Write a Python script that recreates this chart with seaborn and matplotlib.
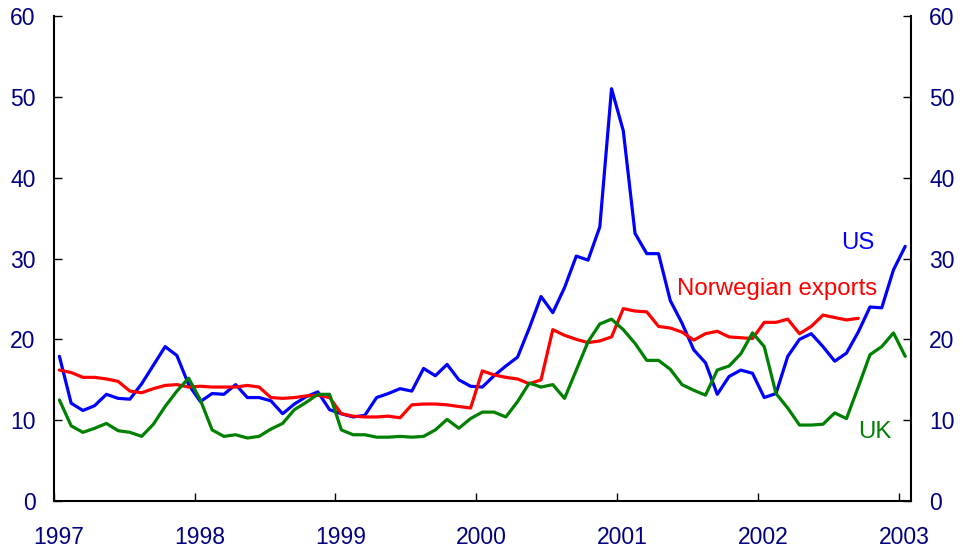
import numpy as np
import pandas as pd
import matplotlib
matplotlib.use("Agg")
import matplotlib.pyplot as plt
import matplotlib.transforms as mtransforms
import seaborn as sns

# Monthly series, January 1997 onwards
us = [17.9, 12.1, 11.2, 11.8, 13.2, 12.7, 12.6, 14.5, 16.8, 19.1, 18.0, 14.4,
      12.3, 13.3, 13.2, 14.4, 12.8, 12.8, 12.4, 10.8, 12.0, 12.9, 13.5, 11.3,
      10.8, 10.4, 10.6, 12.8, 13.3, 13.9, 13.6, 16.4, 15.5, 16.9, 15.0, 14.2,
      14.1, 15.5, 16.7, 17.8, 21.4, 25.3, 23.3, 26.4, 30.3, 29.8, 33.9, 51.0,
      45.8, 33.1, 30.6, 30.6, 24.8, 22.0, 18.7, 17.1, 13.2, 15.4, 16.2, 15.8,
      12.8, 13.3, 17.9, 20.0, 20.7, 19.1, 17.3, 18.3, 20.9, 24.0, 23.9, 28.6,
      31.5]
norway = [16.2, 15.9, 15.3, 15.3, 15.1, 14.8, 13.6, 13.4, 13.9, 14.3, 14.4, 14.1,
          14.2, 14.1, 14.1, 14.1, 14.3, 14.1, 12.8, 12.7, 12.8, 13.0, 13.1, 12.8,
          10.8, 10.5, 10.4, 10.4, 10.5, 10.3, 11.9, 12.0, 12.0, 11.9, 11.7, 11.5,
          16.1, 15.6, 15.3, 15.1, 14.5, 15.0, 21.2, 20.5, 20.0, 19.6, 19.8, 20.3,
          23.8, 23.5, 23.4, 21.6, 21.4, 20.9, 19.9, 20.7, 21.0, 20.3, 20.2, 20.1,
          22.1, 22.1, 22.5, 20.7, 21.6, 23.0, 22.7, 22.4, 22.6]
uk = [12.5, 9.3, 8.5, 9.0, 9.6, 8.7, 8.5, 8.0, 9.5, 11.7, 13.6, 15.2,
      12.5, 8.8, 8.0, 8.2, 7.8, 8.0, 8.9, 9.6, 11.3, 12.2, 13.2, 13.2,
      8.8, 8.2, 8.2, 7.9, 7.9, 8.0, 7.9, 8.0, 8.8, 10.1, 9.0, 10.2,
      11.0, 11.0, 10.4, 12.3, 14.6, 14.1, 14.4, 12.7, 16.2, 19.7, 21.9, 22.5,
      21.2, 19.5, 17.4, 17.4, 16.3, 14.4, 13.7, 13.1, 16.2, 16.7, 18.2, 20.8,
      19.1, 13.3, 11.5, 9.4, 9.4, 9.5, 10.9, 10.2, 14.1, 18.1, 19.1, 20.8,
      17.9]

year_ticks = [1997, 1998, 1999, 2000, 2001, 2002, 2003]
y_ticks = [0, 10, 20, 30, 40, 50, 60]


def monthly(values, name):
    t = 1997 + (np.arange(len(values)) + 0.5) / 12
    return pd.DataFrame({"time": t, "value": values, "series": name})


df = pd.concat([monthly(us, "US"),
                monthly(norway, "Norwegian exports"),
                monthly(uk, "UK")], ignore_index=True)

palette = {"US": "#0000FF", "Norwegian exports": "#FF0000", "UK": "#008000"}

sns.set_style("ticks")
plt.rcParams["font.family"] = ["Liberation Sans", "DejaVu Sans"]

fig = plt.figure(figsize=(9.63, 5.5), dpi=100)
ax = fig.add_axes([0.0556, 0.089, 0.8905, 0.882])

sns.lineplot(data=df, x="time", y="value", hue="series", palette=palette,
             linewidth=2.3, legend=False, ax=ax)

ax.set_xlim(1997, 1997 + 73 / 12)
ax.set_ylim(0, 60)
ax.set_xticks(year_ticks)
ax.set_xticklabels([str(y) for y in year_ticks])
ax.set_yticks(y_ticks)
ax.set_xlabel("")
ax.set_ylabel("")

label_color = "#000080"
ax.tick_params(axis="both", direction="in", length=6, width=1,
               colors="black", labelcolor=label_color, labelsize=16.5)
ax.tick_params(axis="y", right=True, labelright=True, pad=13)
ax.tick_params(axis="x", pad=18)

# year labels sit a little to the right of their ticks
shift = mtransforms.ScaledTranslation(5 / 100, 0, fig.dpi_scale_trans)
for lbl in ax.get_xticklabels():
    lbl.set_transform(lbl.get_transform() + shift)

for side in ["left", "right", "bottom"]:
    ax.spines[side].set_linewidth(1.5)
    ax.spines[side].set_color("black")
ax.spines["top"].set_visible(False)

ax.text(2002.59, 31.9, "US", color=palette["US"], fontsize=17.3,
        ha="left", va="center")
ax.text(2001.42, 26.2, "Norwegian exports", color=palette["Norwegian exports"],
        fontsize=17.3, ha="left", va="center")
ax.text(2002.71, 8.5, "UK", color=palette["UK"], fontsize=17.3,
        ha="left", va="center")

fig.savefig("out.png", dpi=100)
